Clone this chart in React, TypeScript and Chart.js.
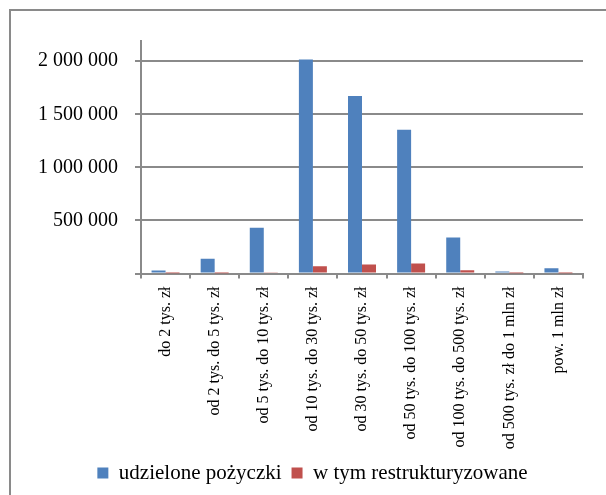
import React, { useEffect, useRef } from 'react';
import { Chart, registerables } from 'chart.js';

Chart.register(...registerables);

const categories = [
  'do 2 tys. zł',
  'od 2 tys. do 5 tys. zł',
  'od 5 tys. do 10 tys. zł',
  'od 10 tys. do 30 tys. zł',
  'od 30 tys. do 50 tys. zł',
  'od 50 tys. do 100 tys. zł',
  'od 100 tys. do 500 tys. zł',
  'od 500 tys. zł do 1 mln zł',
  'pow. 1 mln zł',
];
const loans = [28000, 139000, 430000, 2015000, 1673000, 1354000, 340000, 19000, 50000];
const restructured = [300, 400, 6000, 69000, 85000, 95000, 31000, 300, 300];
const seriesNames = ['udzielone pożyczki', 'w tym restrukturyzowane'];
const yTickValues = [0, 500000, 1000000, 1500000, 2000000];

const FONT = "'Liberation Serif', 'Times New Roman', serif";
const GRID = '#8a8a8a';
const LEGEND_SHIFT = 21;

const fmt = (v: number) => {
  if (v === 0) return '';
  return String(Math.round(v)).replace(/\B(?=(\d{3})+(?!\d))/g, ' ');
};

const framePlugin = {
  id: 'frame',
  afterLayout(chart: any) {
    const lg = chart.legend;
    if (lg) {
      lg.left += LEGEND_SHIFT;
      lg.right += LEGEND_SHIFT;
    }
  },
  beforeDraw(chart: any) {
    const ctx = chart.ctx;
    ctx.save();
    ctx.fillStyle = '#ffffff';
    ctx.fillRect(0, 0, chart.width, chart.height);
    ctx.strokeStyle = GRID;
    ctx.lineWidth = 2;
    ctx.beginPath();
    ctx.moveTo(10, chart.height + 2);
    ctx.lineTo(10, 10);
    ctx.lineTo(chart.width + 2, 10);
    ctx.stroke();
    ctx.restore();
  },
};

export default function App() {
  const ref = useRef<HTMLCanvasElement>(null);
  useEffect(() => {
    if (!ref.current) return;
    const chart = new Chart(ref.current, {
      type: 'bar',
      data: {
        labels: categories,
        datasets: [
          {
            label: seriesNames[0],
            data: loans,
            backgroundColor: '#4F81BD',
            categoryPercentage: 0.57,
            barPercentage: 1,
          },
          {
            label: seriesNames[1],
            data: restructured,
            backgroundColor: '#C0504D',
            categoryPercentage: 0.57,
            barPercentage: 1,
          },
        ],
      },
      options: {
        animation: false,
        responsive: false,
        layout: { padding: { left: 0, top: 41, right: 23, bottom: 1.5 } },
        plugins: {
          legend: {
            position: 'bottom',
            labels: {
              boxWidth: 11,
              boxHeight: 11,
              padding: 10,
              color: '#000',
              font: { family: FONT, size: 21 },
            },
          },
          tooltip: { enabled: false },
        },
        scales: {
          x: {
            grid: {
              drawOnChartArea: false,
              drawTicks: true,
              tickLength: 5,
              color: GRID,
              lineWidth: 2,
            },
            border: { color: GRID, width: 2 },
            ticks: {
              color: '#000',
              font: { family: FONT, size: 16 },
              minRotation: 90,
              maxRotation: 90,
              autoSkip: false,
              padding: 8,
            },
            afterFit(scale: any) {
              scale.height = 179;
            },
          },
          y: {
            min: 0,
            max: 2190000,
            grid: {
              drawTicks: true,
              tickLength: 6,
              color: GRID,
              lineWidth: 2,
            },
            border: { color: GRID, width: 2 },
            ticks: {
              color: '#000',
              font: { family: FONT, size: 20 },
              padding: 17,
              callback: (v: any) => fmt(Number(v)),
            },
            afterBuildTicks(scale: any) {
              scale.ticks = yTickValues.map((value) => ({ value }));
            },
            afterFit(scale: any) {
              scale.width = 141;
            },
          },
        },
      },
      plugins: [framePlugin],
    });
    return () => chart.destroy();
  }, []);
  return (
    <div style={{ position: 'fixed', left: 0, top: 0, width: 606, height: 495 }}>
      <canvas ref={ref} width={606} height={495} style={{ display: 'block' }} />
    </div>
  );
}
